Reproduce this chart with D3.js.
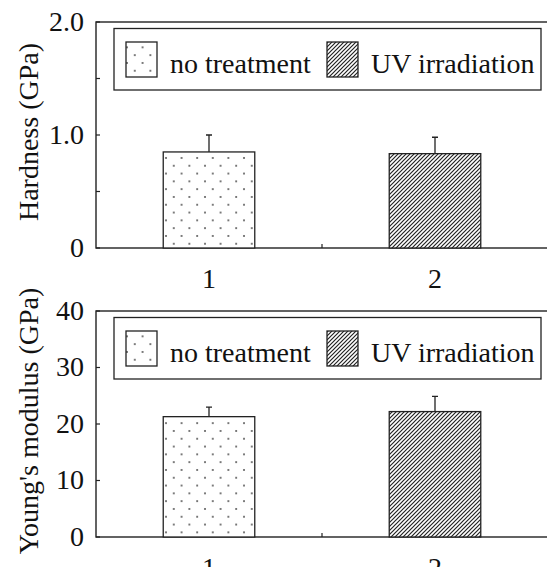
<!DOCTYPE html>
<html>
<head>
<meta charset="utf-8">
<script src="https://cdn.jsdelivr.net/npm/d3@7"></script>
<style>
  body { margin: 0; background: #fff; }
</style>
</head>
<body>
<script>
// data
var categories = ["1", "2"];
var seriesNames = ["no treatment", "UV irradiation"];
var hardness = [0.85, 0.835];
var hardnessErr = [0.15, 0.145];
var modulus = [21.3, 22.2];
var modulusErr = [1.7, 2.7];
var hardnessTicks = [0, 1, 2];
var hardnessTickLabels = ["0", "1.0", "2.0"];
var hardnessMinor = [0.5, 1.5];
var modulusTicks = [0, 10, 20, 30, 40];
var modulusTickLabels = ["0", "10", "20", "30", "40"];

var w = 547;
var h = 567;
var left = 96;
var right = 548;
var font = "'Liberation Serif'";
var fs = "28px";

var svg = d3.select("body").append("svg").attr("width", w).attr("height", h);

// patterns
var defs = svg.append("defs");
var dots = defs.append("pattern")
  .attr("id", "dots")
  .attr("patternUnits", "userSpaceOnUse")
  .attr("width", 15.6).attr("height", 15.6)
  .attr("x", 164).attr("y", 0);
dots.append("rect").attr("width", 15.6).attr("height", 15.6).attr("fill", "#fff");
dots.append("circle").attr("cx", 2).attr("cy", 2).attr("r", 0.95).attr("fill", "#444");
dots.append("circle").attr("cx", 9.8).attr("cy", 9.8).attr("r", 0.95).attr("fill", "#444");

var hatch = defs.append("pattern")
  .attr("id", "hatch")
  .attr("patternUnits", "userSpaceOnUse")
  .attr("width", 4).attr("height", 4);
hatch.append("rect").attr("width", 4).attr("height", 4).attr("fill", "#fff");
hatch.append("path")
  .attr("d", "M-1,1 l2,-2 M0,4 l4,-4 M3,5 l2,-2")
  .attr("stroke", "#222")
  .attr("stroke-width", 1.2);

var fills = ["url(#dots)", "url(#hatch)"];

var x = d3.scaleBand().domain(categories).range([left, right]).paddingInner(0).paddingOuter(0);
var barW = x.bandwidth() * 0.405;

function panel(top, bottom, domain, values, errs, ticks, tickLabels, minor, title) {
  var y = d3.scaleLinear().domain(domain).range([bottom, top]);
  var g = svg.append("g");

  // frame
  g.append("rect")
    .attr("x", left).attr("y", top)
    .attr("width", right - left).attr("height", bottom - top)
    .attr("fill", "none").attr("stroke", "#222").attr("stroke-width", 1.4);

  // y ticks (inward)
  g.selectAll(".ytick")
    .data(ticks.concat(minor))
    .enter()
    .append("line")
    .attr("x1", left).attr("x2", left + 4)
    .attr("y1", function (d) { return y(d); })
    .attr("y2", function (d) { return y(d); })
    .attr("stroke", "#222").attr("stroke-width", 1.2);

  g.selectAll(".ylab")
    .data(ticks)
    .enter()
    .append("text")
    .attr("x", 84)
    .attr("y", function (d) { return y(d) + 8.5; })
    .attr("text-anchor", "end")
    .style("font-family", font)
    .style("font-size", fs)
    .style("fill", "#111")
    .text(function (d, i) { return tickLabels[i]; });

  // x tick between categories
  g.append("line")
    .attr("x1", x(categories[1])).attr("x2", x(categories[1]))
    .attr("y1", bottom).attr("y2", bottom - 4)
    .attr("stroke", "#222").attr("stroke-width", 1.2);

  g.selectAll(".xlab")
    .data(categories)
    .enter()
    .append("text")
    .attr("x", function (d) { return x(d) + x.bandwidth() / 2; })
    .attr("y", bottom + 40)
    .attr("text-anchor", "middle")
    .style("font-family", font)
    .style("font-size", fs)
    .style("fill", "#111")
    .text(function (d) { return d; });

  // error bars
  g.selectAll(".err")
    .data(values)
    .enter()
    .append("path")
    .attr("d", function (d, i) {
      var cx = x(categories[i]) + x.bandwidth() / 2;
      var yt = y(d + errs[i]);
      return "M" + cx + "," + y(d) + "V" + yt + "M" + (cx - 3) + "," + yt + "H" + (cx + 3);
    })
    .attr("fill", "none").attr("stroke", "#222").attr("stroke-width", 1.3);

  // bars
  g.selectAll(".bar")
    .data(values)
    .enter()
    .append("rect")
    .attr("x", function (d, i) { return x(categories[i]) + x.bandwidth() / 2 - barW / 2; })
    .attr("y", function (d) { return y(d); })
    .attr("width", barW)
    .attr("height", function (d) { return bottom - y(d); })
    .attr("fill", function (d, i) { return fills[i]; })
    .attr("stroke", "#222").attr("stroke-width", 1.3);

  // legend
  var lg = g.append("g").attr("transform", "translate(0," + top + ")");
  lg.append("rect")
    .attr("x", 114).attr("y", 6.5)
    .attr("width", 427).attr("height", 61.5)
    .attr("fill", "#fff").attr("stroke", "#222").attr("stroke-width", 1.3);
  var lx = [126, 327];
  seriesNames.forEach(function (s, i) {
    lg.append("rect")
      .attr("x", lx[i]).attr("y", 20)
      .attr("width", 31).attr("height", 35)
      .attr("fill", fills[i]).attr("stroke", "#222").attr("stroke-width", 1.3);
    lg.append("text")
      .attr("x", lx[i] + 44).attr("y", 51)
      .style("font-family", font)
      .style("font-size", fs)
      .style("fill", "#111")
      .text(s);
  });

  // y title
  var mid = (top + bottom) / 2 - 3;
  g.append("text")
    .attr("transform", "translate(38," + mid + ") rotate(-90)")
    .attr("text-anchor", "middle")
    .style("font-family", font)
    .style("font-size", fs)
    .style("fill", "#111")
    .text(title);
}

panel(22, 248, [0, 2], hardness, hardnessErr, hardnessTicks, hardnessTickLabels, hardnessMinor, "Hardness (GPa)");
panel(311, 537, [0, 40], modulus, modulusErr, modulusTicks, modulusTickLabels, [], "Young's modulus (GPa)");
</script>
</body>
</html>
